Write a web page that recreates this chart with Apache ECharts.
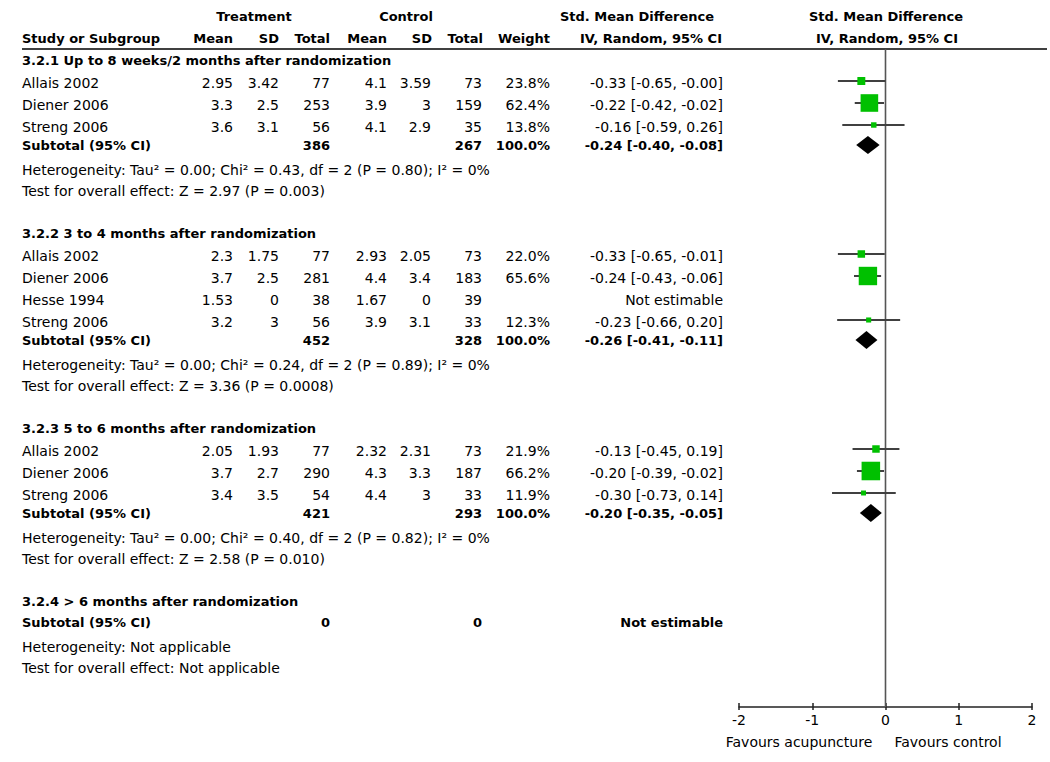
<!DOCTYPE html>
<html>
<head>
<meta charset="utf-8">
<script src="https://cdn.jsdelivr.net/npm/echarts@6/dist/echarts.min.js"></script>
<style>html,body{margin:0;padding:0;background:#fff;}#chart{width:1050px;height:762px;}</style>
</head>
<body>
<div id="chart"></div>
<script>
// ---------- DATA ----------
const sectionTitles = [
  '3.2.1 Up to 8 weeks/2 months after randomization',
  '3.2.2 3 to 4 months after randomization',
  '3.2.3 5 to 6 months after randomization',
  '3.2.4 > 6 months after randomization'
];
const studySection = [0, 0, 0, 1, 1, 1, 1, 2, 2, 2];
const studyNames = ['Allais 2002', 'Diener 2006', 'Streng 2006',
  'Allais 2002', 'Diener 2006', 'Hesse 1994', 'Streng 2006',
  'Allais 2002', 'Diener 2006', 'Streng 2006'];
const tMean  = [2.95, 3.3, 3.6, 2.3, 3.7, 1.53, 3.2, 2.05, 3.7, 3.4];
const tSD    = [3.42, 2.5, 3.1, 1.75, 2.5, 0, 3, 1.93, 2.7, 3.5];
const tTotal = [77, 253, 56, 77, 281, 38, 56, 77, 290, 54];
const cMean  = [4.1, 3.9, 4.1, 2.93, 4.4, 1.67, 3.9, 2.32, 4.3, 4.4];
const cSD    = [3.59, 3, 2.9, 2.05, 3.4, 0, 3.1, 2.31, 3.3, 3];
const cTotal = [73, 159, 35, 73, 183, 39, 33, 73, 187, 33];
const weight = [23.8, 62.4, 13.8, 22.0, 65.6, null, 12.3, 21.9, 66.2, 11.9];
const smd    = [-0.33, -0.22, -0.16, -0.33, -0.24, null, -0.23, -0.13, -0.20, -0.30];
const ciLow  = [-0.65, -0.42, -0.59, -0.65, -0.43, null, -0.66, -0.45, -0.39, -0.73];
const ciHigh = [-0.00, -0.02, 0.26, -0.01, -0.06, null, 0.20, 0.19, -0.02, 0.14];

const subTTotal = [386, 452, 421, 0];
const subCTotal = [267, 328, 293, 0];
const subWeight = [100.0, 100.0, 100.0, null];
const subSmd    = [-0.24, -0.26, -0.20, null];
const subLow    = [-0.40, -0.41, -0.35, null];
const subHigh   = [-0.08, -0.11, -0.05, null];

const heterogeneity = [
  'Heterogeneity: Tau² = 0.00; Chi² = 0.43, df = 2 (P = 0.80); I² = 0%',
  'Heterogeneity: Tau² = 0.00; Chi² = 0.24, df = 2 (P = 0.89); I² = 0%',
  'Heterogeneity: Tau² = 0.00; Chi² = 0.40, df = 2 (P = 0.82); I² = 0%',
  'Heterogeneity: Not applicable'
];
const overallEffect = [
  'Test for overall effect: Z = 2.97 (P = 0.003)',
  'Test for overall effect: Z = 3.36 (P = 0.0008)',
  'Test for overall effect: Z = 2.58 (P = 0.010)',
  'Test for overall effect: Not applicable'
];
const axisTicks = [-2, -1, 0, 1, 2];
const favourLeft = 'Favours acupuncture';
const favourRight = 'Favours control';

// ---------- LAYOUT ----------
const FONT = 'DejaVu Sans';
const COL = { name: 22, tMean: 233, tSD: 279, tTotal: 330, cMean: 387, cSD: 431, cTotal: 482, weight: 550, ci: 723 };
const PLOT_TOP = 49, AXIS_Y = 707;

function fmt(v) {
  const neg = v < 0 || Object.is(v, -0);
  return (neg ? '-' : '') + Math.abs(v).toFixed(2);
}
function ciLabel(e, l, h) { return fmt(e) + ' [' + fmt(l) + ', ' + fmt(h) + ']'; }

const graphics = [];
function txt(s, x, y, align, bold) {
  graphics.push({
    type: 'text', x: x, y: y, silent: true,
    style: {
      text: String(s), fill: '#000',
      fontFamily: FONT, fontSize: bold ? 13 : 14, fontWeight: bold ? 'bold' : 'normal',
      align: align, verticalAlign: 'middle', textAlign: align, textVerticalAlign: 'middle'
    }
  });
}

// headers
txt('Treatment', 254, 16, 'center', true);
txt('Control', 406, 16, 'center', true);
txt('Std. Mean Difference', 637, 16, 'center', true);
txt('Std. Mean Difference', 886, 16, 'center', true);
txt('Study or Subgroup', COL.name, 38, 'left', true);
txt('Mean', 233, 38, 'right', true);
txt('SD', 279, 38, 'right', true);
txt('Total', 330, 38, 'right', true);
txt('Mean', 387, 38, 'right', true);
txt('SD', 432, 38, 'right', true);
txt('Total', 483, 38, 'right', true);
txt('Weight', 550, 38, 'right', true);
txt('IV, Random, 95% CI', 651, 38, 'center', true);
txt('IV, Random, 95% CI', 887, 38, 'center', true);
graphics.push({ type: 'line', silent: true, shape: { x1: 22, y1: PLOT_TOP, x2: 1047, y2: PLOT_TOP },
  style: { stroke: '#000', lineWidth: 1.5 } });

const ciData = [], sqData = [], dmData = [];
let y = 60;
sectionTitles.forEach((title, s) => {
  txt(title, COL.name, y, 'left', true);
  const idx = studySection.map((v, i) => v === s ? i : -1).filter(i => i >= 0);
  let yy = y;
  idx.forEach((i, k) => {
    yy += k === 0 ? 23 : 22;
    txt(studyNames[i], COL.name, yy, 'left', false);
    txt(tMean[i], COL.tMean, yy, 'right', false);
    txt(tSD[i], COL.tSD, yy, 'right', false);
    txt(tTotal[i], COL.tTotal, yy, 'right', false);
    txt(cMean[i], COL.cMean, yy, 'right', false);
    txt(cSD[i], COL.cSD, yy, 'right', false);
    txt(cTotal[i], COL.cTotal, yy, 'right', false);
    if (weight[i] != null) {
      txt(weight[i].toFixed(1) + '%', COL.weight, yy, 'right', false);
      txt(ciLabel(smd[i], ciLow[i], ciHigh[i]), COL.ci, yy, 'right', false);
      ciData.push([ciLow[i], ciHigh[i], yy - 2]);
      sqData.push([smd[i], yy - 2, weight[i]]);
    } else {
      txt('Not estimable', COL.ci, yy, 'right', false);
    }
  });
  const sy = idx.length ? yy + 18 : y + 21;
  txt('Subtotal (95% CI)', COL.name, sy, 'left', true);
  txt(subTTotal[s], COL.tTotal, sy, 'right', true);
  txt(subCTotal[s], COL.cTotal, sy, 'right', true);
  if (subWeight[s] != null) {
    txt(subWeight[s].toFixed(1) + '%', COL.weight, sy, 'right', true);
    txt(ciLabel(subSmd[s], subLow[s], subHigh[s]), COL.ci, sy, 'right', true);
    dmData.push([subLow[s], subSmd[s], subHigh[s], sy]);
  } else {
    txt('Not estimable', COL.ci, sy, 'right', true);
  }
  const hy = sy + 25, ty = hy + 21;
  txt(heterogeneity[s], COL.name, hy, 'left', false);
  txt(overallEffect[s], COL.name, ty, 'left', false);
  y = ty + 42;
});

txt(favourLeft, 799, 742, 'center', false);
txt(favourRight, 948, 742, 'center', false);

// ---------- CHART ----------
const chart = echarts.init(document.getElementById('chart'), null, { renderer: 'svg' });
const gridDef = { left: 739, right: 18, top: 0, height: AXIS_Y };
const yDef = (gi) => ({ type: 'value', gridIndex: gi, min: 0, max: AXIS_Y, inverse: true, show: false });
const xBase = { type: 'value', min: axisTicks[0], max: axisTicks[axisTicks.length - 1], interval: 1, splitLine: { show: false } };

chart.setOption({
  animation: false,
  backgroundColor: '#fff',
  grid: [gridDef, Object.assign({}, gridDef)],
  xAxis: [
    Object.assign({}, xBase, {
      gridIndex: 0, position: 'bottom',
      axisLine: { show: true, onZero: false, lineStyle: { color: '#222', width: 1.5 } },
      axisTick: { show: true, inside: true, length: 4, lineStyle: { color: '#222', width: 1.5 } },
      axisLabel: { show: true, margin: 6, color: '#000', fontFamily: FONT, fontSize: 14,
        formatter: v => axisTicks.indexOf(v) >= 0 ? String(v) : '' }
    }),
    Object.assign({}, xBase, {
      gridIndex: 1, position: 'bottom',
      axisLine: { show: false, onZero: false },
      axisTick: { show: true, inside: false, length: 3, lineStyle: { color: '#222', width: 1.5 } },
      axisLabel: { show: false }
    })
  ],
  yAxis: [yDef(0), yDef(1)],
  graphic: graphics,
  series: [
    {
      type: 'custom', xAxisIndex: 0, yAxisIndex: 0, silent: true,
      data: [[0, PLOT_TOP, AXIS_Y]],
      renderItem: (p, api) => {
        const a = api.coord([api.value(0), api.value(1)]);
        const b = api.coord([api.value(0), api.value(2)]);
        return { type: 'line', shape: { x1: a[0], y1: a[1], x2: b[0], y2: b[1] },
          style: { stroke: '#555', lineWidth: 1.6 } };
      }
    },
    {
      type: 'custom', xAxisIndex: 0, yAxisIndex: 0, silent: true,
      data: ciData,
      renderItem: (p, api) => {
        const a = api.coord([api.value(0), api.value(2)]);
        const b = api.coord([api.value(1), api.value(2)]);
        return { type: 'line', shape: { x1: a[0], y1: a[1], x2: b[0], y2: b[1] },
          style: { stroke: '#404040', lineWidth: 2 } };
      }
    },
    {
      type: 'custom', xAxisIndex: 0, yAxisIndex: 0, silent: true,
      data: sqData,
      renderItem: (p, api) => {
        const c = api.coord([api.value(0), api.value(1)]);
        const s = 2 + 0.25 * api.value(2);
        return { type: 'rect', shape: { x: c[0] - s / 2, y: c[1] - s / 2, width: s, height: s },
          style: { fill: '#00c000' } };
      }
    },
    {
      type: 'custom', xAxisIndex: 0, yAxisIndex: 0, silent: true,
      data: dmData,
      renderItem: (p, api) => {
        const l = api.coord([api.value(0), api.value(3)]);
        const m = api.coord([api.value(1), api.value(3)]);
        const h = api.coord([api.value(2), api.value(3)]);
        return { type: 'polygon',
          shape: { points: [[l[0], l[1]], [m[0], m[1] - 9], [h[0], h[1]], [m[0], m[1] + 9]] },
          style: { fill: '#000' } };
      }
    }
  ]
});
</script>
</body>
</html>
